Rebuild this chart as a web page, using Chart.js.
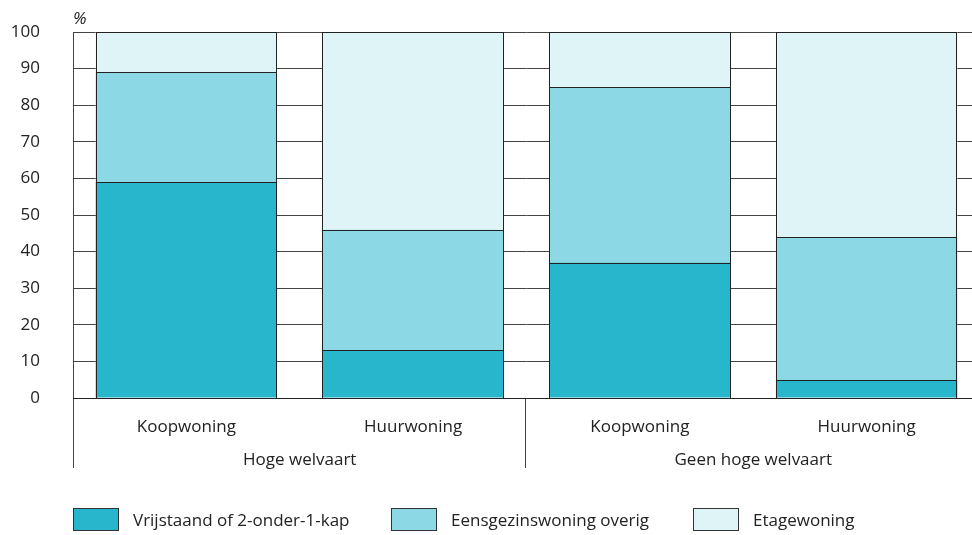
<!DOCTYPE html>
<html>
<head>
<meta charset="utf-8">
<script src="https://cdn.jsdelivr.net/npm/chart.js@4"></script>
<style>
  html, body { margin: 0; padding: 0; background: #fff; }
  .wrap { position: relative; width: 972px; height: 535px; overflow: hidden; }
  canvas { position: absolute; left: 0; top: 0; }
  .legend { position: absolute; top: 508px; left: 0; font-family: "Open Sans", sans-serif; font-size: 17px; color: #222; }
  .legend .item { position: absolute; display: flex; align-items: center; white-space: nowrap; height: 23px; }
  .legend .box { width: 46px; height: 23px; border: 1px solid #333; margin-right: 14px; box-sizing: border-box; }
</style>
</head>
<body>
<div class="wrap">
  <canvas id="chart" width="980" height="535"></canvas>
  <div class="legend" id="legend"></div>
</div>
<script>
// Data
const categories = ['Koopwoning', 'Huurwoning', 'Koopwoning', 'Huurwoning'];
const groups = ['Hoge welvaart', 'Geen hoge welvaart'];
const seriesNames = ['Vrijstaand of 2-onder-1-kap', 'Eensgezinswoning overig', 'Etagewoning'];
const vrijstaand = [59, 13, 37, 5];
const eensgezins = [30, 33, 48, 39];
const etage = [11, 54, 15, 56];
const yTicks = [0, 10, 20, 30, 40, 50, 60, 70, 80, 90, 100];

const colors = ['#27b6cb', '#8cd8e5', '#dff4f7'];
const legendLeft = [73, 391, 693];
const textColor = '#222';
const font = '"Open Sans", sans-serif';

// Bar outlines, group labels, separators, axis line and "%" sign
const groupPlugin = {
    id: 'groupPlugin',
    afterDatasetsDraw(chart) {
        const ctx = chart.ctx;
        ctx.save();
        ctx.strokeStyle = '#222';
        ctx.lineWidth = 1;
        chart.data.datasets.forEach((ds, i) => {
            chart.getDatasetMeta(i).data.forEach(bar => {
                const l = Math.round(bar.x - bar.width / 2) + 0.5;
                const r = Math.round(bar.x + bar.width / 2) - 0.5;
                const t = Math.round(bar.y) + 0.5;
                const b = Math.round(bar.base) + 0.5;
                ctx.strokeRect(l, t, r - l, b - t);
            });
        });
        ctx.restore();
    },
    afterDraw(chart) {
        const ctx = chart.ctx;
        const x = chart.scales.x;
        const area = chart.chartArea;
        const bottom = 468;
        ctx.save();
        ctx.strokeStyle = '#444';
        ctx.lineWidth = 1;
        // left axis line
        ctx.beginPath();
        ctx.moveTo(area.left + 0.5, area.top);
        ctx.lineTo(area.left + 0.5, bottom);
        ctx.stroke();
        // group separator
        const sep = Math.round((x.getPixelForValue(1) + x.getPixelForValue(2)) / 2) - 1.5;
        ctx.beginPath();
        ctx.moveTo(sep, area.bottom);
        ctx.lineTo(sep, bottom);
        ctx.stroke();
        // zero line
        ctx.strokeStyle = '#222';
        const y0 = Math.round(chart.scales.y.getPixelForValue(0)) + 0.5;
        ctx.beginPath();
        ctx.moveTo(area.left, y0);
        ctx.lineTo(area.right, y0);
        ctx.stroke();
        // group labels
        ctx.fillStyle = textColor;
        ctx.font = '17px ' + font;
        ctx.textAlign = 'center';
        ctx.textBaseline = 'middle';
        groups.forEach((g, i) => {
            const cx = (x.getPixelForValue(i * 2) + x.getPixelForValue(i * 2 + 1)) / 2;
            ctx.fillText(g, cx, 460);
        });
        // unit
        ctx.font = 'italic 17px ' + font;
        ctx.textAlign = 'left';
        ctx.fillText('%', area.left, 19);
        ctx.restore();
    }
};

const ctx = document.getElementById('chart').getContext('2d');
const data = [vrijstaand, eensgezins, etage];

new Chart(ctx, {
    type: 'bar',
    data: {
        labels: categories,
        datasets: seriesNames.map((name, i) => ({
            label: name,
            data: data[i],
            backgroundColor: colors[i],
            borderWidth: 0,
            categoryPercentage: 1,
            barPercentage: 0.8
        }))
    },
    options: {
        responsive: false,
        animation: false,
        events: [],
        layout: {
            padding: { left: 0, right: 0, top: 32, bottom: 67 }
        },
        scales: {
            x: {
                stacked: true,
                grid: { display: false },
                border: { display: false },
                ticks: {
                    color: textColor,
                    font: { family: font, size: 17 },
                    padding: 11,
                    maxRotation: 0
                },
                afterFit(scale) { scale.height = 70; }
            },
            y: {
                stacked: true,
                min: 0,
                max: 100,
                afterBuildTicks(scale) {
                    scale.ticks = yTicks.map(v => ({ value: v }));
                },
                grid: {
                    color: '#444',
                    lineWidth: 1,
                    drawTicks: false
                },
                border: { display: false },
                ticks: {
                    color: textColor,
                    font: { family: font, size: 17 },
                    padding: 33
                },
                afterFit(scale) {
                    scale.width = 73;
                    // tick padding is only meant to push labels left
                    scale.paddingTop = 0;
                    scale.paddingBottom = 0;
                }
            }
        },
        plugins: {
            legend: { display: false },
            tooltip: { enabled: false }
        }
    },
    plugins: [groupPlugin]
});

// Legend
const legendEl = document.getElementById('legend');
seriesNames.forEach((name, i) => {
    const item = document.createElement('div');
    item.className = 'item';
    item.style.left = legendLeft[i] + 'px';
    item.innerHTML = '<span class="box" style="background:' + colors[i] + '"></span><span>' + name + '</span>';
    legendEl.appendChild(item);
});
</script>
</body>
</html>
